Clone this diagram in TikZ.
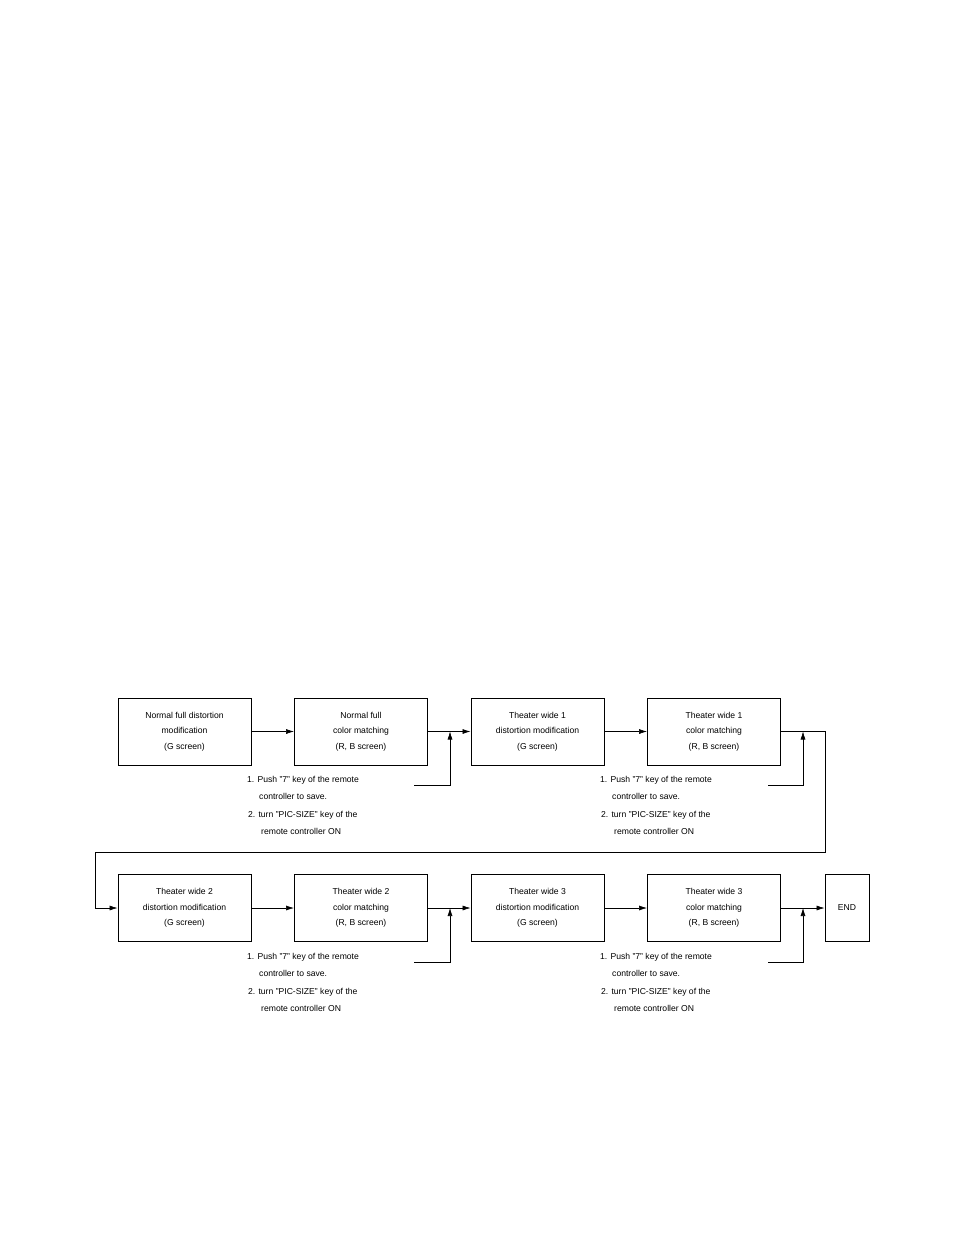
\documentclass[tikz,border=0pt]{standalone}
\usepackage{fontspec}
\setmainfont{Liberation Sans}
\usetikzlibrary{arrows.meta}
\begin{document}
\begin{tikzpicture}[x=1pt,y=-1pt,
 bx/.style={draw,line width=1pt,minimum width=133pt,minimum height=67pt,align=center,font=\fontsize{8.6}{15.5}\selectfont,inner sep=0pt},
 nt/.style={anchor=west,font=\fontsize{8.6}{10}\selectfont,inner sep=0pt},
 ar/.style={-{Latex[length=8pt,width=5pt]},line width=0.6pt},
 ln/.style={line width=0.6pt}]
\useasboundingbox (0,0) rectangle (954,1235);
\foreach \r/\y in {1/731.5,2/908}{
}
\node[bx] (a1) at (184.5,731.5) {Normal full distortion\\modification\\(G screen)};
\node[bx] (a2) at (361,731.5) {Normal full\\color matching\\(R, B screen)};
\node[bx] (a3) at (537.5,731.5) {Theater wide 1\\distortion modification\\(G screen)};
\node[bx] (a4) at (714,731.5) {Theater wide 1\\color matching\\(R, B screen)};
\node[bx] (b1) at (184.5,908) {Theater wide 2\\distortion modification\\(G screen)};
\node[bx] (b2) at (361,908) {Theater wide 2\\color matching\\(R, B screen)};
\node[bx] (b3) at (537.5,908) {Theater wide 3\\distortion modification\\(G screen)};
\node[bx] (b4) at (714,908) {Theater wide 3\\color matching\\(R, B screen)};
\node[bx,minimum width=44pt] (e) at (847,908) {END};
\foreach \dy/\nx [count=\i] in {0/247,0/600,177/247,177/600}{
  \node[nt] (n\i a) at (\nx,780+\dy) {1. Push "7" key of the remote};
  \node[nt] (n\i b) at (\nx+12,796+\dy) {controller to save.};
  \node[nt] (n\i c) at (\nx+1,815+\dy) {2. turn "PIC-SIZE" key of the};
  \node[nt] (n\i d) at (\nx+14,831+\dy) {remote controller ON};
}
\draw[ar] (a1) -- (a2);
\draw[ar] (a2) -- (a3);
\draw[ar] (a3) -- (a4);
\draw[ar] (b1) -- (b2);
\draw[ar] (b2) -- (b3);
\draw[ar] (b3) -- (b4);
\draw[ar] (b4) -- (e);
\coordinate (t1) at (414,785);
\coordinate (t2) at (768,785);
\coordinate (t3) at (414,962);
\coordinate (t4) at (768,962);
\draw[ar] (t1) -| (450,731.5);
\draw[ar] (t2) -| (803,731.5);
\draw[ar] (t3) -| (450,908);
\draw[ar] (t4) -| (803,908);
\draw[ar] (a4.east) -- (825,731.5) -- (825,852) -- (95,852) -- (95,908) -- (b1.west);
\end{tikzpicture}
\end{document}
